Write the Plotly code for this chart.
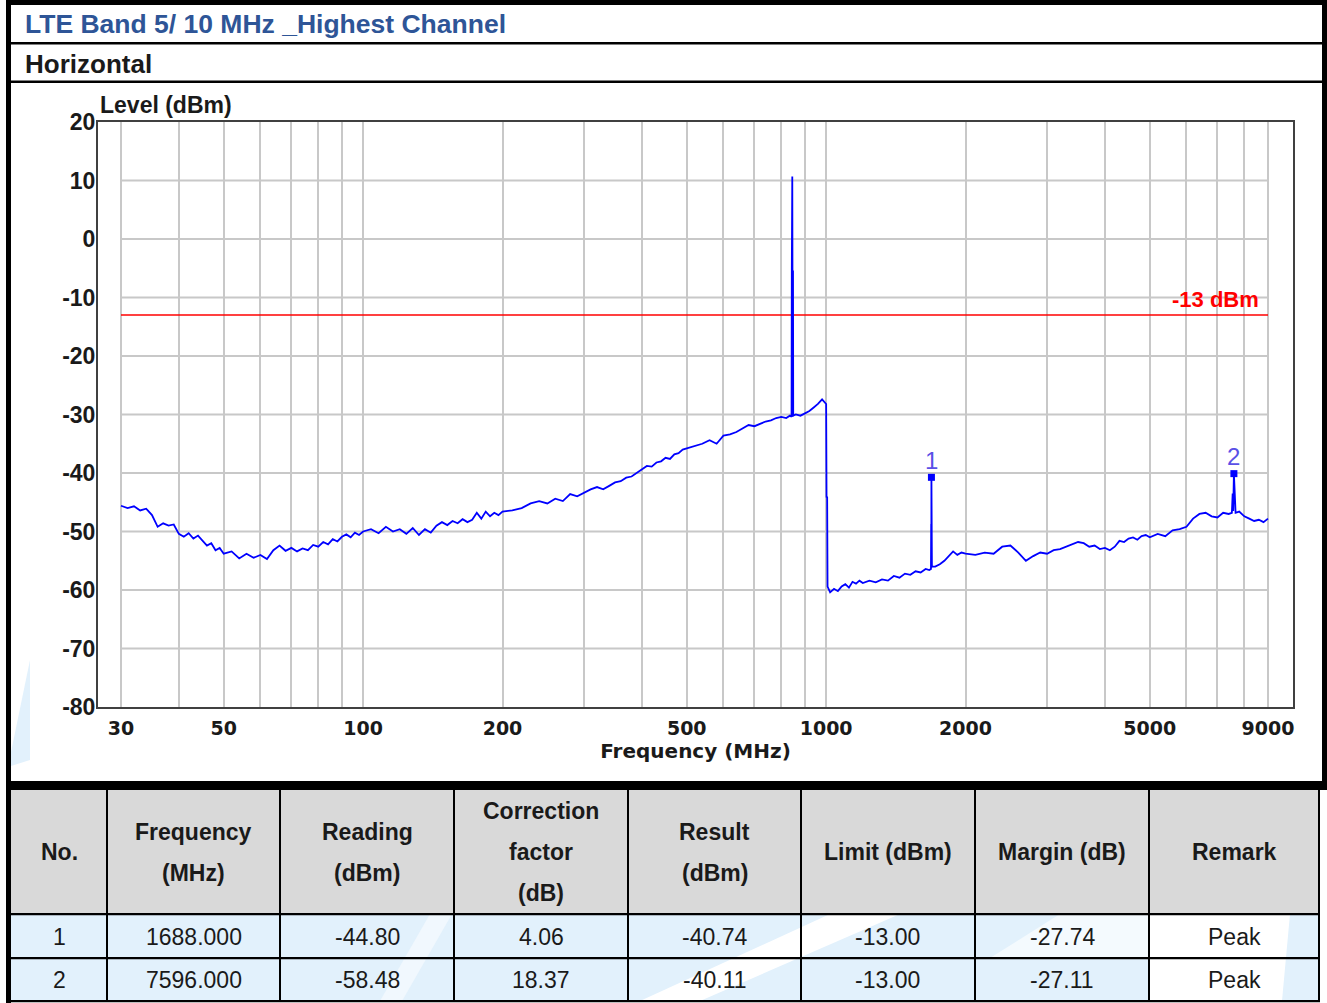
import math
import plotly.graph_objects as go

# ---------------- spectrum sweep (peak detector), 30 MHz - 9 GHz ----------------
freq_mhz = [
    30, 31, 32, 33, 34, 35, 36, 37, 38, 39, 40, 41, 42, 43, 44, 45, 46, 47, 48, 49, 50,
    52, 54, 56, 58, 60, 62, 64, 66, 68, 70, 72, 74, 76, 78, 80, 82, 84, 86, 88, 90,
    92, 94, 96, 98, 100,
    104, 108, 112, 116, 120, 124, 128, 132, 136, 140, 144, 148, 152, 156, 160, 164,
    168, 172, 176, 180, 184, 188, 192, 196, 200,
    210, 220, 230, 240, 250, 260, 270, 280, 290, 300, 310, 320, 330, 340, 350, 360,
    370, 380, 390, 400, 410, 420, 430, 440, 450, 460, 470, 480, 490, 500,
    520, 540, 560, 580, 600, 620, 640, 660, 680, 700, 720, 740, 760, 780, 800, 820,
    835, 842, 843, 844, 845, 846, 847, 848, 849, 860, 880, 900, 920, 940, 960, 980,
    990, 996, 1000, 1002, 1005, 1007,
    1012, 1020, 1040, 1060, 1080, 1100, 1120, 1140, 1160, 1180, 1200, 1240, 1280,
    1320, 1360, 1400, 1440, 1480, 1520, 1560, 1600, 1640, 1670, 1684, 1686, 1687,
    1688, 1690, 1692, 1720, 1760, 1800, 1840, 1880, 1920, 1960, 2000,
    2100, 2200, 2300, 2400, 2500, 2600, 2700, 2800, 2900, 3000, 3100, 3200, 3300,
    3400, 3500, 3600, 3700, 3800, 3900, 4000, 4100, 4200, 4300, 4400, 4500, 4600,
    4700, 4800, 4900, 5000,
    5200, 5400, 5600, 5800, 6000, 6200, 6400, 6600, 6800, 7000, 7200, 7400, 7520,
    7550, 7570, 7596, 7630, 7660, 7800, 8000, 8200, 8400, 8600, 8800, 9000,
]
level_dbm = [
    -45.6, -46.0, -45.7, -46.4, -46.1, -47.2, -49.2, -48.6, -49.0, -48.8, -50.4,
    -50.9, -50.3, -51.2, -50.7, -51.6, -52.4, -52.0, -53.2, -52.8, -53.8,
    -53.4, -54.6, -53.8, -54.5, -54.0, -54.7, -53.2, -52.4, -53.3, -52.8, -53.4,
    -52.9, -53.2, -52.3, -52.6, -51.8, -52.2, -51.3, -51.7, -50.9,
    -50.5, -51.0, -50.2, -50.6, -50.0,
    -49.6, -50.3, -49.2, -50.0, -49.6, -50.4, -49.4, -50.6, -49.6, -50.2, -49.0,
    -48.4, -48.9, -48.2, -48.6, -47.9, -48.4, -48.0, -46.8, -47.8, -46.6, -47.4,
    -46.8, -47.2, -46.6,
    -46.4, -46.0, -45.2, -44.8, -45.2, -44.4, -44.8, -43.6, -44.0, -43.4, -42.8,
    -42.4, -42.8, -42.2, -41.6, -41.4, -40.8, -40.6, -40.0, -39.4, -38.8, -38.9,
    -38.2, -38.0, -37.4, -37.6, -36.8, -36.6, -36.0, -35.8,
    -35.4, -35.0, -34.4, -35.0, -33.6, -33.4, -33.0, -32.4, -31.8, -32.0, -31.6,
    -31.2, -31.0, -30.6, -30.4, -30.6,
    -30.2, -30.4, -5.2, -30.0, 10.7, -5.0, -30.4, -5.4, -30.2, -30.0, -30.2, -29.8,
    -29.4, -28.8, -28.2, -27.4,
    -27.8, -28.2, -28.2, -44.2, -44.0, -59.4,
    -59.8, -60.4, -59.8, -60.2, -59.4, -59.0, -59.6, -58.6, -58.9, -58.4, -58.8,
    -58.4, -58.7, -58.2, -58.4, -57.6, -57.9, -57.2, -57.4, -56.8, -57.0, -56.4,
    -56.6, -56.4, -48.7, -56.2,
    -40.74, -48.7, -56.0, -56.0, -55.6, -55.0, -54.2, -53.4, -54.0, -53.6, -53.8,
    -54.0, -53.6, -53.8, -52.6, -52.4, -53.6, -55.0, -54.2, -53.6, -53.8, -53.2,
    -53.0, -52.6, -52.2, -51.8, -52.0, -52.6, -52.4, -53.0, -52.8, -53.2, -52.6,
    -51.6, -51.8, -51.2, -51.0, -51.4, -50.8, -50.6, -51.0,
    -50.4, -50.8, -49.8, -49.6, -49.2, -47.8, -47.0, -46.8, -47.4, -47.6, -46.8,
    -47.0, -46.8, -43.5, -46.5, -40.11, -43.5, -46.8, -46.6, -47.4, -47.8, -48.2,
    -48.0, -48.4, -47.8,
]

limit_dbm = -13.0
span_mhz = [30, 9000]

# ---------------- marker table ----------------
mk_no = [1, 2]
mk_freq = [1688.000, 7596.000]
mk_reading = [-44.80, -58.48]
mk_corr = [4.06, 18.37]
mk_result = [-40.74, -40.11]
mk_limit = [-13.00, -13.00]
mk_margin = [-27.74, -27.11]
mk_remark = ["Peak", "Peak"]

header_lines = [
    ["No."], ["Frequency", "(MHz)"], ["Reading", "(dBm)"],
    ["Correction", "factor", "(dB)"], ["Result", "(dBm)"],
    ["Limit (dBm)"], ["Margin (dB)"], ["Remark"],
]

# ---------------- axis ticks ----------------
x_grid = [30, 40, 50, 60, 70, 80, 90, 100, 200, 300, 400, 500, 600, 700, 800, 900,
          1000, 2000, 3000, 4000, 5000, 6000, 7000, 8000, 9000]
x_labeled = [30, 50, 100, 200, 500, 1000, 2000, 5000, 9000]
y_ticks = [-80, -70, -60, -50, -40, -30, -20, -10, 0, 10, 20]

# ---------------- page geometry (pixels) ----------------
W, H = 1327, 1003
ML, MR, MT, MB = 98, 34, 122, 296
PW, PH = W - ML - MR, H - MT - MB


def fx(x):
    return (x - ML) / PW


def fy(y):
    return 1 - (y - MT) / PH


def prect(x0, y0, x1, y1, color, layer="below"):
    return dict(type="rect", xref="paper", yref="paper",
                x0=fx(x0), x1=fx(x1), y0=fy(y1), y1=fy(y0),
                fillcolor=color, line=dict(width=0), layer=layer)


def ppath(points, color, layer="below"):
    d = "M " + " L ".join(f"{fx(a):.5f},{fy(b):.5f}" for a, b in points) + " Z"
    return dict(type="path", xref="paper", yref="paper", path=d,
                fillcolor=color, line=dict(width=0), layer=layer)


ARIAL = "Liberation Sans, Arial, sans-serif"
WIDE = "DejaVu Sans, Verdana, sans-serif"
INK = "#1A1A1A"
WATER = "#E2F1FC"

fig = go.Figure()

# horizontal grid lines across the swept span
gx, gy = [], []
for v in y_ticks[1:-1]:
    gx += [span_mhz[0], span_mhz[1], None]
    gy += [v, v, None]
fig.add_trace(go.Scatter(x=gx, y=gy, mode="lines", hoverinfo="skip",
                         line=dict(color="#C8C8C8", width=2)))

# limit line
fig.add_trace(go.Scatter(x=span_mhz, y=[limit_dbm, limit_dbm], mode="lines",
                         line=dict(color="#FF0000", width=1.6)))

# measured trace
fig.add_trace(go.Scatter(x=freq_mhz, y=level_dbm, mode="lines",
                         line=dict(color="#0000FF", width=1.8)))

# peak markers
fig.add_trace(go.Scatter(
    x=mk_freq, y=mk_result, mode="markers",
    marker=dict(symbol="square", size=7, color="#0000FF"),
))

shapes = []
# watermark tint
shapes.append(ppath([(11, 752), (30, 660), (30, 760), (11, 766)], WATER))

# outer black frame and row separators
shapes.append(prect(6, 0, 1327, 5, "#000000"))
shapes.append(prect(6, 0, 11, 1003, "#000000"))
shapes.append(prect(1322, 0, 1327, 790, "#000000"))
shapes.append(prect(11, 42, 1322, 44.5, "#000000"))
shapes.append(prect(11, 80.5, 1322, 83, "#000000"))
shapes.append(prect(6, 781, 1327, 790, "#000000"))

# table backgrounds
shapes.append(prect(11, 790, 1319, 914, "#D9D9D9"))
shapes.append(prect(11, 914, 1319, 1001, WATER))
# watermark light bands over the data rows
shapes.append(ppath([(380, 1001), (402, 1001), (452, 914), (430, 914)], "#F1F8FE"))
shapes.append(ppath([(640, 1001), (700, 1001), (900, 914), (830, 914)], "#FFFFFF"))
shapes.append(ppath([(1149, 1001), (1282, 1001), (1290, 914), (1149, 914)], "#FFFFFF"))
shapes.append(ppath([(990, 958), (1149, 958), (1149, 914), (1060, 914)], "#F4FAFE"))

# table rules
col_edges = [11, 107, 280, 454, 628, 801, 975, 1149, 1319]
for xe in col_edges[1:]:
    shapes.append(prect(xe - 1, 790, xe + 1, 1002, "#000000"))
for ye in [914, 958, 1001]:
    shapes.append(prect(11, ye - 1, 1320, ye + 1.2, "#000000"))

annotations = []


def note(x, y, text, size, color=INK, family=ARIAL, weight="normal", anchor="center"):
    annotations.append(dict(
        xref="paper", yref="paper", x=fx(x), y=fy(y), text=text, showarrow=False,
        xanchor=anchor, yanchor="middle", borderpad=0,
        font=dict(family=family, size=size, color=color, weight=weight)))


note(24, 24, "LTE Band 5/ 10 MHz _Highest Channel", 26.5, color="#2E5597",
     weight="bold", anchor="left")
note(24, 64, "Horizontal", 26, weight="bold", anchor="left")
note(99, 105, "Level (dBm)", 23, weight="bold", anchor="left")

# limit label
annotations.append(dict(
    xref="paper", yref="y", x=fx(1261), y=limit_dbm, yshift=16, text="-13 dBm",
    showarrow=False, xanchor="right", yanchor="middle",
    font=dict(family=ARIAL, size=22, color="#FF0000", weight="bold")))

# marker numbers above each peak
for n, f, r in zip(mk_no, mk_freq, mk_result):
    annotations.append(dict(
        xref="x", yref="y", x=math.log10(f), y=r, yshift=17, text=str(n),
        showarrow=False, xanchor="center", yanchor="middle",
        font=dict(family=ARIAL, size=24, color="#5A50E6")))

# table text
centers = [(col_edges[i] + col_edges[i + 1]) / 2 for i in range(len(col_edges) - 1)]
for cx, lines in zip(centers, header_lines):
    n = len(lines)
    for k, t in enumerate(lines):
        note(cx, 852 + (k - (n - 1) / 2) * 41, t, 23, weight="bold")

row_y = [937, 980]
for i in range(len(mk_no)):
    cells = [str(mk_no[i]), f"{mk_freq[i]:.3f}", f"{mk_reading[i]:.2f}",
             f"{mk_corr[i]:.2f}", f"{mk_result[i]:.2f}", f"{mk_limit[i]:.2f}",
             f"{mk_margin[i]:.2f}", mk_remark[i]]
    for cx, t in zip(centers, cells):
        note(cx, row_y[i], t, 23)

fig.update_layout(
    width=W, height=H,
    margin=dict(l=ML, r=MR, t=MT, b=MB, pad=0),
    paper_bgcolor="#FFFFFF", plot_bgcolor="#FFFFFF",
    showlegend=False,
    shapes=shapes, annotations=annotations,
    xaxis=dict(
        type="log", range=[1.42745, 4.00823], automargin=False,
        tickmode="array", tickvals=x_grid,
        ticktext=[str(v) if v in x_labeled else "" for v in x_grid],
        showgrid=True, gridcolor="#C8C8C8", gridwidth=2, zeroline=False,
        showline=True, linecolor="#404040", linewidth=2, mirror=True,
        ticks="", ticklabelstandoff=3,
        tickfont=dict(family=WIDE, size=19, color=INK, weight="bold"),
        title=dict(text="Frequency (MHz)", standoff=4,
                   font=dict(family=WIDE, size=20, color=INK, weight="bold")),
    ),
    yaxis=dict(
        range=[-80, 20], automargin=False,
        tickmode="array", tickvals=y_ticks,
        ticktext=[str(v) for v in y_ticks],
        showgrid=False, zeroline=False,
        showline=True, linecolor="#404040", linewidth=2, mirror=True,
        ticks="", ticklabelstandoff=-4,
        tickfont=dict(family=ARIAL, size=23, color=INK, weight="bold"),
    ),
)

fig.write_html("out.html")
